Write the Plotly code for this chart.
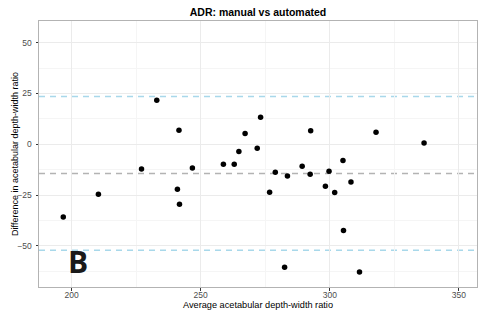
import plotly.graph_objects as go

avg = [196.8, 210.4, 227.1, 233.0, 241.6, 241.0, 241.8, 246.8, 258.8, 263.0,
       264.8, 267.2, 273.2, 271.9, 278.9, 276.7, 283.6, 289.3, 292.4, 292.6,
       298.3, 299.7, 301.9, 305.1, 308.2, 317.9, 336.5, 305.3, 282.5, 311.5]
diff = [-35.8, -24.6, -12.2, 21.7, 6.9, -22.2, -29.6, -11.7, -9.9, -9.9,
        -3.6, 5.3, 13.3, -2.0, -13.8, -23.6, -15.6, -10.8, -14.8, 6.6,
        -20.7, -13.3, -23.8, -8.0, -18.6, 5.9, 0.6, -42.5, -60.6, -62.9]
mean_diff = -14.4
upper_loa = 23.5
lower_loa = -52.2

x_range = [187.4, 357.0]
y_range = [-70.3, 60.7]

fig = go.Figure()
fig.add_trace(go.Scatter(x=avg, y=diff, mode="markers",
                         marker=dict(color="black", size=5.5), showlegend=False))

for val, col in [(upper_loa, "#a8d8ea"), (lower_loa, "#a8d8ea"), (mean_diff, "#b3b3b3")]:
    fig.add_shape(type="line", xref="paper", yref="y", x0=0, x1=1, y0=val, y1=val,
                  line=dict(color=col, width=1.4, dash="6px,5px"), layer="below")

fig.add_annotation(x=0.088, y=0.094, xref="paper", yref="paper", text="<b>B</b>",
                   showarrow=False, font=dict(family="Open Sans", size=30, color="#1a1a1a"),
                   xanchor="center", yanchor="middle")

fig.add_annotation(x=-0.055, y=0.5, xref="paper", yref="paper",
                   text="Difference in acetabular depth-width ratio", textangle=-90,
                   showarrow=False, xanchor="center", yanchor="middle",
                   font=dict(family="Liberation Sans, Arial", size=9, color="black"))

axis_common = dict(showgrid=True, gridcolor="#ebebeb", gridwidth=1, automargin=False,
                   showline=True, linecolor="#b3b3b3", linewidth=1, mirror=True,
                   zeroline=False, ticks="outside", ticklen=2.5, tickcolor="#333333",
                   tickfont=dict(family="Liberation Sans, Arial", size=8.5, color="#4d4d4d"),
                   minor=dict(showgrid=True, gridcolor="#f5f5f5", gridwidth=0.7))

fig.update_layout(
    width=485, height=316,
    margin=dict(l=39, r=8, t=21, b=29),
    paper_bgcolor="white", plot_bgcolor="white",
    title=dict(text="<b>ADR: manual vs automated</b>", x=0.532, xanchor="center",
               y=0.962, yanchor="middle",
               font=dict(family="Liberation Sans, Arial", size=10.5, color="black")),
    xaxis=dict(range=x_range, tickvals=[200, 250, 300, 350], ticklabelstandoff=-3,
               title=dict(text="Average acetabular depth-width ratio", standoff=0,
                          font=dict(family="Liberation Sans, Arial", size=9.2, color="black")),
               **axis_common),
    yaxis=dict(range=y_range, tickvals=[-50, -25, 0, 25, 50], ticklabelstandoff=2,
               **axis_common),
)
fig.update_xaxes(minor=dict(tickvals=[225, 275, 325], showgrid=True))
fig.update_yaxes(minor=dict(tickvals=[-62.5, -37.5, -12.5, 12.5, 37.5], showgrid=True))

fig.write_html("out.html", config={"displayModeBar": False},
               post_script="document.body.style.margin='0';document.body.style.overflow='hidden';")
